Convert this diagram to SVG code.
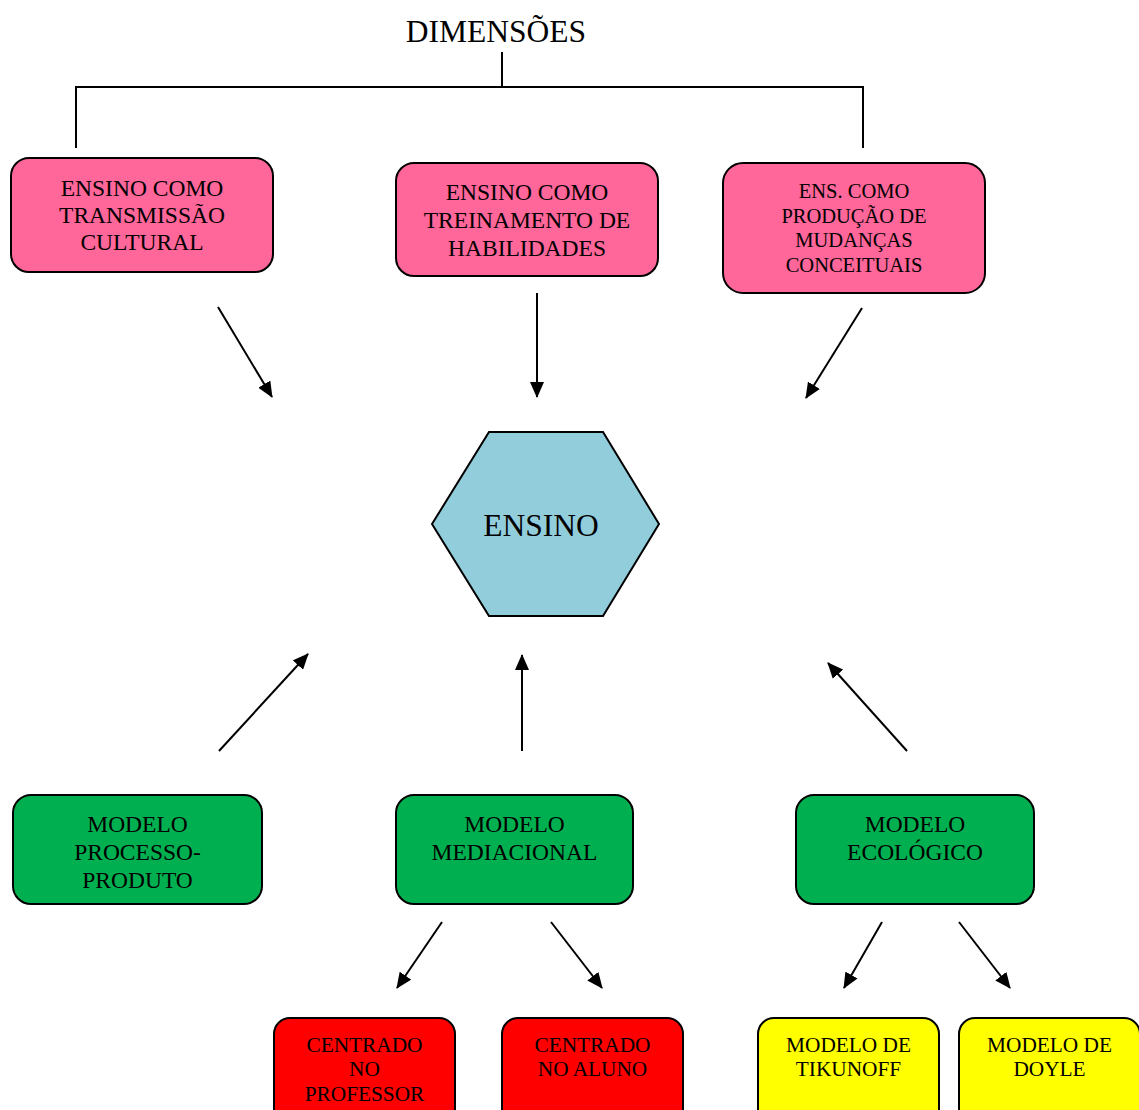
<svg xmlns="http://www.w3.org/2000/svg" width="1139" height="1110" viewBox="0 0 1139 1110">
<defs>
<marker id="ah" markerUnits="userSpaceOnUse" markerWidth="16" markerHeight="14" refX="15" refY="7" orient="auto">
<path d="M0,0 L16,7 L0,14 Z" fill="#000"/>
</marker>
<style>
text{font-family:"Liberation Serif","Times New Roman",serif;fill:#000;text-anchor:middle}
.box{stroke:#000;stroke-width:2}
.pink{fill:#FF6699}
.green{fill:#00B050}
.red{fill:#FF0000}
.yellow{fill:#FFFF00}
.hex{fill:#92CDDC;stroke:#000;stroke-width:2}
.t1{font-size:23.5px}
.t3{font-size:20.5px}
.t4{font-size:21.3px}
.conn line,.conn polyline{stroke:#000;stroke-width:2;fill:none}
.arr{marker-end:url(#ah)}
</style>
</defs>
<rect width="1139" height="1110" fill="#fff"/>
<g id="title"><text x="496" y="41.5" style="font-size:31.5px">DIMENSÕES</text></g>
<g id="connectors" class="conn">
<line x1="502" y1="52" x2="502" y2="87"/>
<polyline points="76,148 76,87 863,87 863,148"/>
<line class="arr" x1="218" y1="307" x2="272" y2="397"/>
<line class="arr" x1="537" y1="293" x2="537" y2="397"/>
<line class="arr" x1="862" y1="308" x2="806" y2="398"/>
<line class="arr" x1="219" y1="751" x2="308" y2="654"/>
<line class="arr" x1="522" y1="751" x2="522" y2="655"/>
<line class="arr" x1="907" y1="751" x2="828" y2="663"/>
<line class="arr" x1="442" y1="922" x2="397" y2="988"/>
<line class="arr" x1="551" y1="922" x2="602" y2="988"/>
<line class="arr" x1="882" y1="922" x2="844" y2="988"/>
<line class="arr" x1="959" y1="922" x2="1010" y2="988"/>
</g>
<g id="n-transmissao">
<rect class="box pink" x="11" y="158" width="262" height="114" rx="18"/>
<text class="t1" x="142" y="196">ENSINO COMO</text>
<text class="t1" x="142" y="223">TRANSMISSÃO</text>
<text class="t1" x="142" y="250">CULTURAL</text>
</g>
<g id="n-treinamento">
<rect class="box pink" x="396" y="163" width="262" height="113" rx="18"/>
<text class="t1" x="527" y="200">ENSINO COMO</text>
<text class="t1" x="527" y="228">TREINAMENTO DE</text>
<text class="t1" x="527" y="256">HABILIDADES</text>
</g>
<g id="n-mudancas">
<rect class="box pink" x="723" y="163" width="262" height="130" rx="20"/>
<text class="t3" x="854" y="198">ENS. COMO</text>
<text class="t3" x="854" y="222.5">PRODUÇÃO DE</text>
<text class="t3" x="854" y="247">MUDANÇAS</text>
<text class="t3" x="854" y="271.5">CONCEITUAIS</text>
</g>
<g id="n-ensino">
<polygon class="hex" points="432,524 489,432 603,432 659,524 603,616 489,616"/>
<text x="541" y="536" style="font-size:31.5px">ENSINO</text>
</g>
<g id="n-processo">
<rect class="box green" x="13" y="795" width="249" height="109" rx="18"/>
<text class="t1" x="137.5" y="832">MODELO</text>
<text class="t1" x="137.5" y="860">PROCESSO-</text>
<text class="t1" x="137.5" y="888">PRODUTO</text>
</g>
<g id="n-mediacional">
<rect class="box green" x="396" y="795" width="237" height="109" rx="18"/>
<text class="t1" x="514.5" y="832">MODELO</text>
<text class="t1" x="514.5" y="860">MEDIACIONAL</text>
</g>
<g id="n-ecologico">
<rect class="box green" x="796" y="795" width="238" height="109" rx="18"/>
<text class="t1" x="915" y="832">MODELO</text>
<text class="t1" x="915" y="860">ECOLÓGICO</text>
</g>
<g id="n-professor">
<rect class="box red" x="274" y="1018" width="181" height="110" rx="16"/>
<text class="t4" x="364.5" y="1051.5">CENTRADO</text>
<text class="t4" x="364.5" y="1076">NO</text>
<text class="t4" x="364.5" y="1100.5">PROFESSOR</text>
</g>
<g id="n-aluno">
<rect class="box red" x="502" y="1018" width="181" height="110" rx="16"/>
<text class="t4" x="592.5" y="1051.5">CENTRADO</text>
<text class="t4" x="592.5" y="1076">NO ALUNO</text>
</g>
<g id="n-tikunoff">
<rect class="box yellow" x="758" y="1018" width="181" height="110" rx="16"/>
<text class="t4" x="848.5" y="1051.5">MODELO DE</text>
<text class="t4" x="848.5" y="1076">TIKUNOFF</text>
</g>
<g id="n-doyle">
<rect class="box yellow" x="959" y="1018" width="181" height="110" rx="16"/>
<text class="t4" x="1049.5" y="1051.5">MODELO DE</text>
<text class="t4" x="1049.5" y="1076">DOYLE</text>
</g>
</svg>
